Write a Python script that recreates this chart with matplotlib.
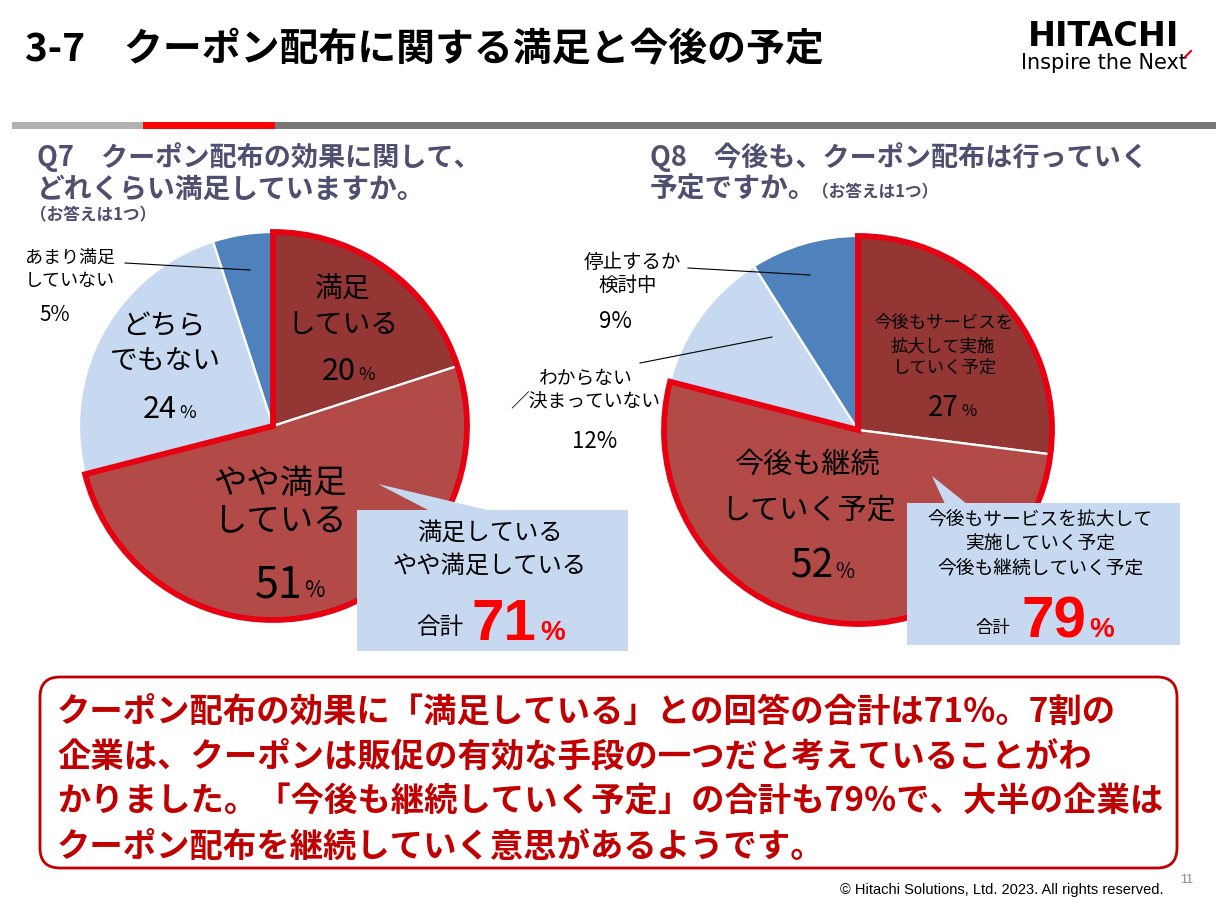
import matplotlib
matplotlib.use('Agg')
import matplotlib.pyplot as plt
from matplotlib.patches import Wedge, Rectangle, FancyBboxPatch, Polygon

W, H = 1216, 907
JP = ['Noto Sans CJK JP', 'DejaVu Sans']
plt.rcParams['font.family'] = JP

# ---------------- data ----------------
title = '3-7\u3000クーポン配布に関する満足と今後の予定'
q7_title = ['Q7\u3000クーポン配布の効果に関して、', 'どれくらい満足していますか。']
q8_title = ['Q8\u3000今後も、クーポン配布は行っていく', '予定ですか。']
note = '（お答えは1つ）'

q7_labels = ['満足\nしている', 'やや満足\nしている', 'どちら\nでもない', 'あまり満足\nしていない']
q7_values = [20, 51, 24, 5]

q8_labels = ['今後もサービスを\n拡大して実施\nしていく予定', '今後も継続\nしていく予定',
             'わからない\n／決まっていない', '停止するか\n検討中']
q8_values = [27, 52, 12, 9]

slice_colors = ['#943634', '#B24B48', '#C6D9F1', '#4F81BD']

q7_callout = ['満足している', 'やや満足している']
q8_callout = ['今後もサービスを拡大して', '実施していく予定', '今後も継続していく予定']
total_label = '合計'

summary_lines = [
    'クーポン配布の効果に「満足している」との回答の合計は71%。7割の',
    '企業は、クーポンは販促の有効な手段の一つだと考えていることがわ',
    'かりました。「今後も継続していく予定」の合計も79%で、大半の企業は',
    'クーポン配布を継続していく意思があるようです。',
]
copyright_text = '© Hitachi Solutions, Ltd. 2023. All rights reserved.'
page_no = '11'

# ---------------- figure ----------------
fig = plt.figure(figsize=(12.16, 9.07), dpi=100)
ax = fig.add_axes([0, 0, 1, 1])


def Y(y):
    return H - y


def txt(x, y, s, size, color='black', weight='normal', ha='center', va='center', family=None, **kw):
    return ax.text(x, Y(y), s, fontsize=size, color=color, fontweight=weight, ha=ha, va=va,
                   family=family if family else JP, zorder=6, **kw)


def pct(xsplit, ybase, num, size_num, size_pct, color='black', weight='normal', family=None):
    txt(xsplit, ybase, str(num), size_num, color=color, weight=weight, ha='right', va='baseline', family=family)
    txt(xsplit + 2, ybase, '%', size_pct, color=color, weight=weight, ha='left', va='baseline', family=family)


def draw_pie(values, cx, cy, r):
    ax.pie(values, colors=slice_colors, startangle=90, counterclock=False,
           center=(cx, Y(cy)), radius=r, frame=True,
           wedgeprops=dict(edgecolor='white', linewidth=1.6))
    frac = sum(values[:2]) / sum(values)
    ax.add_patch(Wedge((cx, Y(cy)), r, 90 - 360 * frac, 90, fill=False,
                       edgecolor='#E60012', linewidth=4.2, joinstyle='miter', zorder=4))


# header
txt(25, 50, title, 28, weight='bold', ha='left')
txt(1104, 36, 'HITACHI', 24, weight='bold', family=['DejaVu Sans'])
txt(1104, 63, 'Inspire the Next', 15, family=['DejaVu Sans'])
ax.plot([1185, 1191], [Y(57), Y(51)], color='#E60012', lw=1.5, zorder=6)

# divider bar
ax.add_patch(Rectangle((12, Y(129)), 131, 7, color='#B2B2B2', lw=0))
ax.add_patch(Rectangle((143, Y(129)), 132, 7, color='#FF0000', lw=0))
ax.add_patch(Rectangle((275, Y(129)), W - 275, 7, color='#777777', lw=0))

# question headings
qcol = '#4F4F6F'
txt(37, 157, q7_title[0], 19.5, color=qcol, weight='bold', ha='left')
txt(37, 190, q7_title[1], 20, color=qcol, weight='bold', ha='left')
txt(30, 215, note, 12, color=qcol, weight='bold', ha='left')
txt(650, 157, q8_title[0], 19.5, color=qcol, weight='bold', ha='left')
txt(650, 190, q8_title[1], 20, color=qcol, weight='bold', ha='left')
txt(812, 192, note, 12, color=qcol, weight='bold', ha='left')

# ---- Q7 pie ----
draw_pie(q7_values, 273, 426, 194)
l = q7_labels[0].split('\n')
txt(343, 290, l[0], 20)
txt(343, 325, l[1], 20)
pct(356, 380, q7_values[0], 22, 13)
l = q7_labels[1].split('\n')
txt(280, 483, l[0], 24)
txt(280, 522, l[1], 24)
pct(302, 597, q7_values[1], 31, 16)
l = q7_labels[2].split('\n')
txt(164, 326, l[0], 20)
txt(165, 362, l[1], 20)
pct(177, 418, q7_values[2], 22, 13)
l = q7_labels[3].split('\n')
txt(70, 258, l[0], 13)
txt(70, 281, l[1], 13)
txt(55, 315, f'{q7_values[3]}%', 15)
ax.plot([125, 250], [Y(263), Y(270)], color='black', lw=0.8, zorder=5)

# ---- Q8 pie ----
draw_pie(q8_values, 858, 430, 194)
l = q8_labels[0].split('\n')
txt(944, 323, l[0], 12.5)
txt(943, 346, l[1], 12.5)
txt(945, 368, l[2], 12.5)
pct(959, 416, q8_values[0], 20, 12)
l = q8_labels[1].split('\n')
txt(808, 465, l[0], 21)
txt(808, 510, l[1], 21)
pct(833, 578, q8_values[1], 28, 15)
l = q8_labels[2].split('\n')
txt(586, 378, l[0], 13.5)
txt(585, 402, l[1], 13.5)
txt(595, 442, f'{q8_values[2]}%', 16)
l = q8_labels[3].split('\n')
txt(632, 262, l[0], 14)
txt(628, 285, l[1], 14)
txt(615, 321, f'{q8_values[3]}%', 16)
ax.plot([688, 810], [Y(268), Y(275)], color='black', lw=0.8, zorder=5)
ax.plot([640, 772], [Y(363), Y(337)], color='black', lw=0.8, zorder=5)

# ---- callouts ----
cb = '#C6D9F1'
ax.add_patch(Rectangle((357, Y(651)), 271, 141, color=cb, lw=0, zorder=5))
ax.add_patch(Polygon([(378, Y(484)), (430, Y(511)), (492, Y(511))], closed=True, color=cb, lw=0, zorder=5))
txt(490, 533, q7_callout[0], 17.5)
txt(490, 566, q7_callout[1], 17.5)
txt(440, 628, total_label, 17)
total7 = sum(q7_values[:2])
txt(536, 640, str(total7), 42, color='#FF0000', weight='bold', ha='right', va='baseline',
    family=['Liberation Sans', 'DejaVu Sans'])
txt(540, 640, '%', 20, color='#FF0000', weight='bold', ha='left', va='baseline',
    family=['Liberation Sans', 'DejaVu Sans'])

ax.add_patch(Rectangle((907, Y(645)), 273, 142, color=cb, lw=0, zorder=5))
ax.add_patch(Polygon([(932, Y(476)), (945, Y(504)), (967, Y(504))], closed=True, color=cb, lw=0, zorder=5))
txt(1040, 520, q8_callout[0], 13.5)
txt(1040, 544, q8_callout[1], 13.5)
txt(1040, 568, q8_callout[2], 13.5)
txt(993, 628, total_label, 12.5)
total8 = sum(q8_values[:2])
txt(1086, 637, str(total8), 42, color='#FF0000', weight='bold', ha='right', va='baseline',
    family=['Liberation Sans', 'DejaVu Sans'])
txt(1089, 637, '%', 20, color='#FF0000', weight='bold', ha='left', va='baseline',
    family=['Liberation Sans', 'DejaVu Sans'])

# ---- summary box ----
dark_red = '#C00000'
ax.add_patch(FancyBboxPatch((40, Y(868)), 1137, 191, boxstyle='round,pad=0,rounding_size=20',
                            fill=False, edgecolor=dark_red, linewidth=2, zorder=5))
for i, line in enumerate(summary_lines):
    txt(57, 712 + 45 * i, line, 24, color=dark_red, weight='bold', ha='left')

txt(1163, 890, copyright_text, 10.5, ha='right', family=['Liberation Sans Narrow', 'Liberation Sans'])
txt(1187, 880, page_no, 9, color='#888888', family=['Liberation Sans Narrow', 'Liberation Sans'])

ax.set_xlim(0, W)
ax.set_ylim(0, H)
ax.set_aspect('auto')
ax.axis('off')
fig.savefig('out.png', dpi=100)
